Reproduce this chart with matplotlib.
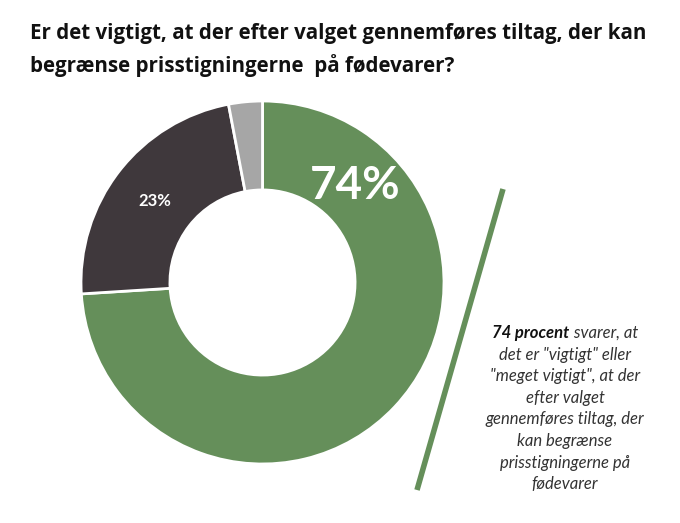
import matplotlib
matplotlib.use("Agg")
import matplotlib.pyplot as plt

# survey answers (percent)
labels = ["Vigtigt / meget vigtigt", "Ikke vigtigt", "Ved ikke"]
shares = [74, 23, 3]
colors = ["#658f5a", "#3f383c", "#a6a6a6"]

title = ("Er det vigtigt, at der efter valget gennemføres tiltag, der kan\n"
         "begrænse prisstigningerne  på fødevarer?")
note_bold = "74 procent"
note_first = " svarer, at"
note_rest = ['det er "vigtigt" eller', '"meget vigtigt", at der', "efter valget",
             "gennemføres tiltag, der", "kan begrænse", "prisstigningerne på",
             "fødevarer"]

W, H = 680, 523
fig = plt.figure(figsize=(W / 100, H / 100), dpi=100)

# donut: center (262.5, 282.5) px, radius 181.5 px
cx, cy, r = 262.5, 282.5, 181.5
ax = fig.add_axes([(cx - r) / W, (H - cy - r) / H, 2 * r / W, 2 * r / H])
wedges, _ = ax.pie(shares, colors=colors, startangle=90, counterclock=False,
                   radius=1, wedgeprops=dict(width=0.49, edgecolor="white", linewidth=2))
ax.set_xlim(-1, 1)
ax.set_ylim(-1, 1)
ax.set_aspect("equal")
ax.axis("off")

# overlay in pixel coordinates
ov = fig.add_axes([0, 0, 1, 1])
ov.set_xlim(0, W)
ov.set_ylim(H, 0)
ov.axis("off")

ov.text(30, 50, title, fontsize=14.8, fontweight="bold", family="Open Sans",
        va="center", ha="left", linespacing=1.58, color="#111111")

ov.text(355, 186, f"{shares[0]}%", fontsize=33, family="Lato", fontweight="bold",
        color="white", ha="center", va="center")
ov.text(155, 201, f"{shares[1]}%", fontsize=12, family="Lato", fontweight="bold",
        color="white", ha="center", va="center")

ov.plot([503, 417], [189, 490], color=colors[0], lw=4, solid_capstyle="butt")

# annotation text
fig.canvas.draw()
rend = fig.canvas.get_renderer()
tx = 565
y0 = 333
step = 21.6
fs = 12
tb = ov.text(0, y0, note_bold, fontsize=fs, family="Lato", fontweight="bold",
             style="italic", va="center", ha="left", color="#111111")
tr = ov.text(0, y0, note_first, fontsize=fs, family="Lato", style="italic",
             va="center", ha="left", color="#333333")
wb = tb.get_window_extent(rend).width
wr = tr.get_window_extent(rend).width
left = tx - (wb + wr) / 2
tb.set_x(left)
tr.set_x(left + wb)
for i, line in enumerate(note_rest, start=1):
    ov.text(tx, y0 + i * step, line, fontsize=fs, family="Lato", style="italic",
            va="center", ha="center", color="#333333")

fig.savefig("out.png", dpi=100, facecolor="white")
